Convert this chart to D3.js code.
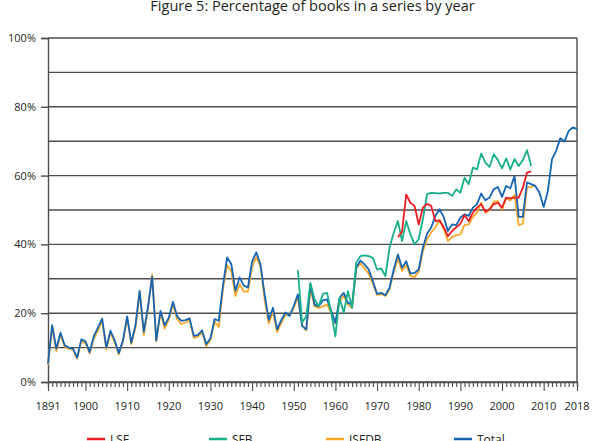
<!DOCTYPE html>
<html>
<head>
<meta charset="utf-8">
<script src="https://cdn.jsdelivr.net/npm/d3@7"></script>
<style>
  body{margin:0;background:#fff;}
  text{font-family:"Open Sans",sans-serif;fill:#231f20;}
</style>
</head>
<body>
<div id="svg-container"></div>
<script>
const firstYear=1891;
const lastYear=2018;
const xTickYears=[1891,1900,1910,1920,1930,1940,1950,1960,1970,1980,1990,2000,2010,2018];
const yTicks=[0,10,20,30,40,50,60,70,80,90,100];
const yLabels=[0,20,40,60,80,100];

// Total, 1891-2018
const totalValues=[5.3,16.5,9.7,14.3,10.7,10,9.7,7.1,12.4,11.8,
  8.7,13.3,15.8,18.4,10,14.9,12.1,8.4,12.1,19.1,
  11.4,16.5,26.5,14.6,21.8,30.6,12.1,20.7,16.5,18.7,
  23.3,19.1,17.8,18,18.5,13.4,13.7,15,11,12.7,
  18.3,17.8,28,36.2,34.3,26.5,30.4,28,27.5,35,
  37.7,34.3,25.5,18,21.6,15.3,18,20.2,19.2,22.1,
  25.5,16.3,15.3,28.3,22.5,22,23.7,24,20.6,17.2,
  24.5,25.9,23,22.5,33.2,35.3,34.2,32.7,29.3,25.6,
  25.9,25.2,27.4,32.7,37.1,33.2,35.1,31.5,31.7,32.7,
  39,43.1,44.9,48.3,50.2,48,43.9,45.8,45.6,47.8,
  48.7,48.3,50.7,51.7,54.8,52.8,53.6,56,56.7,53.8,
  57,56.3,59.9,48,48,58,57.5,57,55,50.9,
  55.5,64.8,67.2,70.9,69.9,73,74,73.5];

// ISFDB, 1891-2008
const isfdbValues=[5,16,9,13.8,10.3,9.7,9.4,6.8,11.8,11.3,
  8.3,12.6,15,17.8,9.5,14.4,11.6,8,11.8,18.6,
  11,15.8,26,13.6,21.3,31.2,11.8,20.2,15.5,18.2,
  22.6,18.3,16.8,17.3,18,12.8,13.2,14.4,10.4,12.2,
  17.5,16,27,34,32.2,25,28.5,26.3,26.3,33.5,
  36.3,33.5,24,17,20.5,14.5,17.2,19.5,19.5,21.5,
  24.8,16.5,15,27,22,21.5,22,22.5,20,17,
  23.5,25,22.5,21.5,33,34.5,33,31.5,28.5,25.3,
  25.5,25,27,32,36,32.3,34,30.8,30.5,32,
  38,41.5,43.5,45,47,44.5,41,42.1,42.7,42.9,
  45.6,45.8,48,49.2,52.1,49.2,49.9,52.4,52.6,50.2,
  53.4,52.8,54.4,45.6,46,56.5,56.7,57.2];

// SFB, 1951-2007
const sfbStart=1951;
const sfbValues=[32.5,17.3,19.1,28.8,24,22,25.6,25.9,20.1,13.3,
  24.5,20.1,26.4,21.6,34.7,36.6,36.8,36.6,36.1,32.7,
  33,30.8,39,43.4,46.8,41,46.8,42.9,40,41.5,
  47.3,54.6,55,54.9,54.8,55,55,54.1,56,55,
  59.4,57.5,62.3,61.8,66.4,63.8,62.5,66.2,64.5,62.1,
  65,61.8,64.8,62.8,64.5,67.4,62.8];

// LSF, 1975-2007
const lsfStart=1975;
const lsfValues=[42.1,43.7,54.5,52.1,51.2,45.8,50.7,51.8,51.2,46.8,
  47,45,42.4,43.9,45,46,48.5,46.8,49.2,50.7,
  51.7,49.5,50.2,51.7,52.1,50.7,53.6,53.4,53.6,53.6,
  56.5,60.9,61.2];

const seriesNames=["LSF","SFB","ISFDB","Total"];
const seriesColors=["#ee1d23","#17b08b","#f8a828","#1565b4"];

const w=600;
const h=441;
const plotLeft=48, plotRight=577, plotTop=38, plotBottom=382;

const toPoints=(start,values)=>values.map((v,i)=>[start+i,v]);
const series={
  "LSF":toPoints(lsfStart,lsfValues),
  "SFB":toPoints(sfbStart,sfbValues),
  "ISFDB":toPoints(firstYear,isfdbValues),
  "Total":toPoints(firstYear,totalValues)
};

const xScale=d3.scaleLinear().domain([firstYear,lastYear]).range([plotLeft,plotRight]);
const yScale=d3.scaleLinear().domain([0,100]).range([plotBottom,plotTop]);

const svg=d3.select("#svg-container").append("svg").attr("width",w).attr("height",h);

svg.append("text")
   .text("Figure 5: Percentage of books in a series by year")
   .attr("x",(plotLeft+plotRight)/2)
   .attr("y",11)
   .attr("text-anchor","middle")
   .style("font-size","14.5px");

// gridlines
svg.append("g")
   .selectAll("line")
   .data(yTicks)
   .enter()
   .append("line")
   .attr("x1",plotLeft)
   .attr("x2",plotRight)
   .attr("y1",d=>yScale(d))
   .attr("y2",d=>yScale(d))
   .attr("stroke","#4d4d4d")
   .attr("stroke-width",1.4);

// right border
svg.append("line")
   .attr("x1",plotRight).attr("x2",plotRight)
   .attr("y1",yScale(100)).attr("y2",yScale(0))
   .attr("stroke","#4d4d4d").attr("stroke-width",1.4);

const yAxis=d3.axisLeft(yScale)
  .tickValues(yLabels)
  .tickSize(7)
  .tickPadding(5)
  .tickFormat(d=>d+"%");
const yG=svg.append("g")
   .attr("transform",`translate(${plotLeft},0)`)
   .call(yAxis);
yG.selectAll("text").style("font-size","11px");

const xAxis=d3.axisBottom(xScale)
  .tickValues(d3.range(firstYear,lastYear+1))
  .tickSize(5)
  .tickFormat("");
const xG=svg.append("g")
   .attr("transform",`translate(0,${plotBottom})`)
   .call(xAxis);
xG.selectAll(".tick line")
  .attr("y2",d=>xTickYears.includes(d)?9:5);

svg.append("g")
   .selectAll("text")
   .data(xTickYears)
   .enter()
   .append("text")
   .text(d=>d)
   .attr("x",d=>xScale(d))
   .attr("y",409.5)
   .attr("text-anchor","middle")
   .style("font-size","11px");

svg.selectAll(".domain, .tick line").attr("stroke","#4d4d4d").attr("stroke-width",1.4);
xG.selectAll(".tick line").attr("stroke-width",1.1);

const line=d3.line().x(d=>xScale(d[0])).y(d=>yScale(d[1]));
const drawOrder=["ISFDB","Total","SFB","LSF"];
svg.append("g")
   .selectAll("path")
   .data(drawOrder)
   .enter()
   .append("path")
   .attr("d",d=>line(series[d]))
   .attr("fill","none")
   .attr("stroke",d=>seriesColors[seriesNames.indexOf(d)])
   .attr("stroke-width",1.8)
   .attr("stroke-linejoin","round");

// legend
const legendX=[87,209,326,454];
const legend=svg.append("g")
   .selectAll("g")
   .data(seriesNames)
   .enter()
   .append("g")
   .attr("transform",(d,i)=>`translate(${legendX[i]},439)`);
legend.append("line")
   .attr("x1",0).attr("x2",18)
   .attr("stroke",(d,i)=>seriesColors[i])
   .attr("stroke-width",2.5);
legend.append("text")
   .text(d=>d)
   .attr("x",23)
   .attr("y",4.5)
   .style("font-size","12px");
</script>
</body>
</html>
